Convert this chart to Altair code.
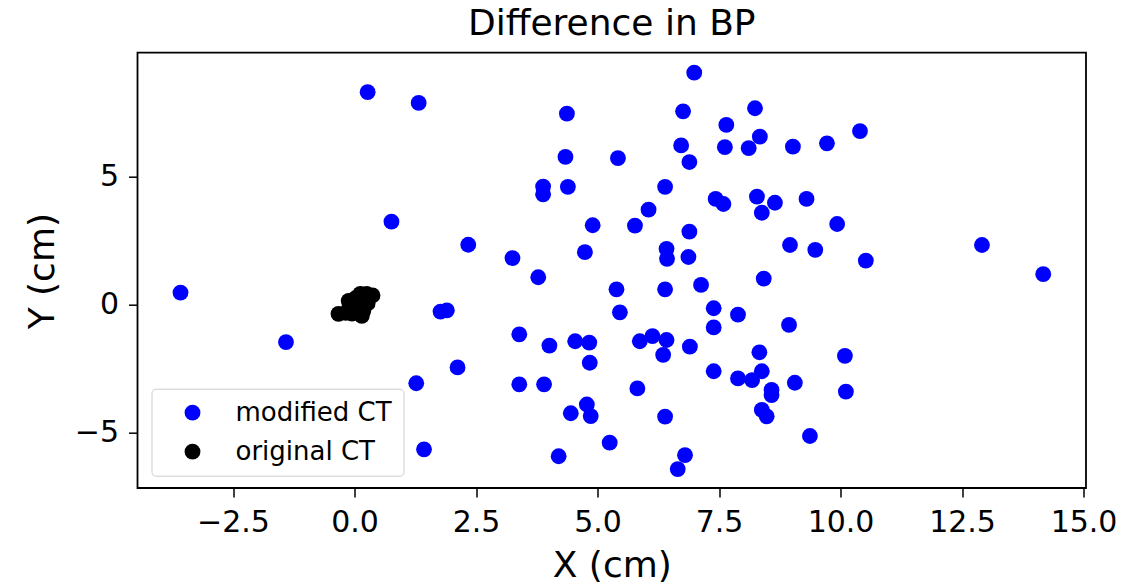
import altair as alt
import pandas as pd

# modified CT points (cm)
mod_x = [-3.58, -1.41, 0.27, 1.32, 0.76, 1.27, 1.43, 1.77, 1.90, 2.12, 2.34, 3.25, 3.39, 3.39,
         3.78, 3.88, 3.88, 3.90, 4.01, 4.20, 4.37, 4.34, 4.39, 4.45, 4.54, 4.74, 4.78, 4.83,
         4.84, 4.86, 4.90, 5.25, 5.39, 5.42, 5.46, 5.77, 5.82, 5.87, 6.05, 6.13, 6.39, 6.39,
         6.39, 6.42, 6.43, 6.42, 6.35, 6.65, 6.72, 6.76, 6.80, 6.87, 6.89, 6.89, 6.90, 6.99,
         7.13, 7.39, 7.39, 7.39, 7.43, 7.59, 7.62, 7.65, 7.89, 7.89, 8.11, 8.18, 8.24, 8.28,
         8.33, 8.34, 8.38, 8.38, 8.38, 8.42, 8.48, 8.58, 8.58, 8.65, 8.94, 8.96, 9.02, 9.06,
         9.30, 9.37, 9.48, 9.72, 9.93, 10.09, 10.11, 10.40, 10.52, 12.91, 14.17]
mod_y = [0.47, -1.46, 8.30, 7.88, 3.24, -3.07, -5.65, -0.27, -0.22, -2.45, 2.34, 1.82, -1.16, -3.11,
         1.07, 4.61, 4.31, -3.11, -1.60, -5.92, 7.46, 5.77, 4.60, -4.24, -1.43, 2.05, -3.90, -1.48,
         -2.27, -4.35, 3.10, -5.39, 0.60, 5.72, -0.30, 3.09, -3.27, -1.43, 3.71, -1.23, 4.60, 0.60,
         -4.37, 2.18, 1.79, -1.38, -1.96, -6.42, 6.22, 7.55, -5.88, 1.86, 2.85, 5.57, -1.64, 9.06,
         0.77, -0.14, -0.89, -2.60, 4.13, 3.93, 6.15, 7.02, -0.39, -2.88, 6.11, -2.95, 7.67, 4.22,
         -1.86, 6.56, 3.59, -2.60, -4.11, 1.02, -4.36, -3.33, -3.53, 3.98, -0.79, 2.33, 6.17, -3.05,
         4.13, -5.13, 2.14, 6.30, 3.15, -2.00, -3.40, 6.78, 1.72, 2.33, 1.19]

# original CT points (cm)
orig_x = [-0.33, -0.18, -0.05, 0.15, 0.18, -0.10, 0.05, -0.12, 0.02, 0.12, 0.25, 0.37, 0.25, 0.10, 0.27]
orig_y = [-0.36, -0.32, -0.35, -0.44, -0.25, -0.05, 0.05, 0.15, 0.25, 0.42, 0.42, 0.36, 0.15, -0.15, 0.05]

series_names = ["modified CT", "original CT"]
series_colors = ["#0000ff", "#000000"]

x_ticks = [-2.5, 0.0, 2.5, 5.0, 7.5, 10.0, 12.5, 15.0]
y_ticks = [-5, 0, 5]

title_text = ["Difference in BP"]

df = pd.concat([
    pd.DataFrame({"x": mod_x, "y": mod_y, "series": series_names[0]}),
    pd.DataFrame({"x": orig_x, "y": orig_y, "series": series_names[1]}),
], ignore_index=True)

FONT = "DejaVu Sans"
W, H = 948.5, 435.3

points = alt.Chart(df).mark_circle(size=250, opacity=1).encode(
    x=alt.X("x:Q",
            scale=alt.Scale(domain=[-4.465, 15.05], nice=False, zero=False),
            axis=alt.Axis(values=x_ticks, format=".1f", title="X (cm)", grid=False, domain=False,
                          titleFontSize=36, titleFont=FONT, titleFontWeight="normal",
                          titleBaseline="alphabetic", titleY=89,
                          labelFontSize=30, labelFont=FONT, labelPadding=11,
                          labelFlush=False)),
    y=alt.Y("y:Q",
            scale=alt.Scale(domain=[-7.16, 9.84], nice=False, zero=False),
            axis=alt.Axis(values=y_ticks, format="d", title="Y (cm)", grid=False, domain=False,
                          titleFontSize=36, titleFont=FONT, titleFontWeight="normal",
                          titleAngle=270, titleBaseline="alphabetic", titleAlign="center",
                          titleX=-84, titleY=218,
                          labelFontSize=30, labelFont=FONT, labelPadding=10)),
    color=alt.Color("series:N",
                    scale=alt.Scale(domain=series_names, range=series_colors),
                    legend=alt.Legend(title=None, orient="none", legendX=14, legendY=336,
                                      fillColor="white", strokeColor="#cccccc",
                                      padding=11, cornerRadius=4,
                                      symbolType="circle", symbolSize=250,
                                      symbolOffset=17, labelOffset=30,
                                      labelFontSize=26, labelFont=FONT,
                                      labelColor="black", rowPadding=13,
                                      symbolOpacity=1)),
)

title = alt.Chart(pd.DataFrame({"t": title_text})).mark_text(
    font=FONT, fontSize=36, color="black", align="center", baseline="alphabetic"
).encode(
    text="t:N",
    x=alt.value(W / 2),
    y=alt.value(-18),
)

chart = alt.layer(points, title).properties(
    width=W,
    height=H,
    autosize=alt.AutoSizeParams(type="none"),
    padding={"left": 137.5, "top": 52.7, "right": 57.5, "bottom": 96.7},
).configure_view(
    stroke="black", strokeWidth=1.8
).configure_axis(
    domain=False, grid=False, tickColor="black", tickWidth=1.5, tickSize=9,
    labelColor="black", titleColor="black"
)

chart.save("out.html", embed_options={"renderer": "svg", "actions": False})
